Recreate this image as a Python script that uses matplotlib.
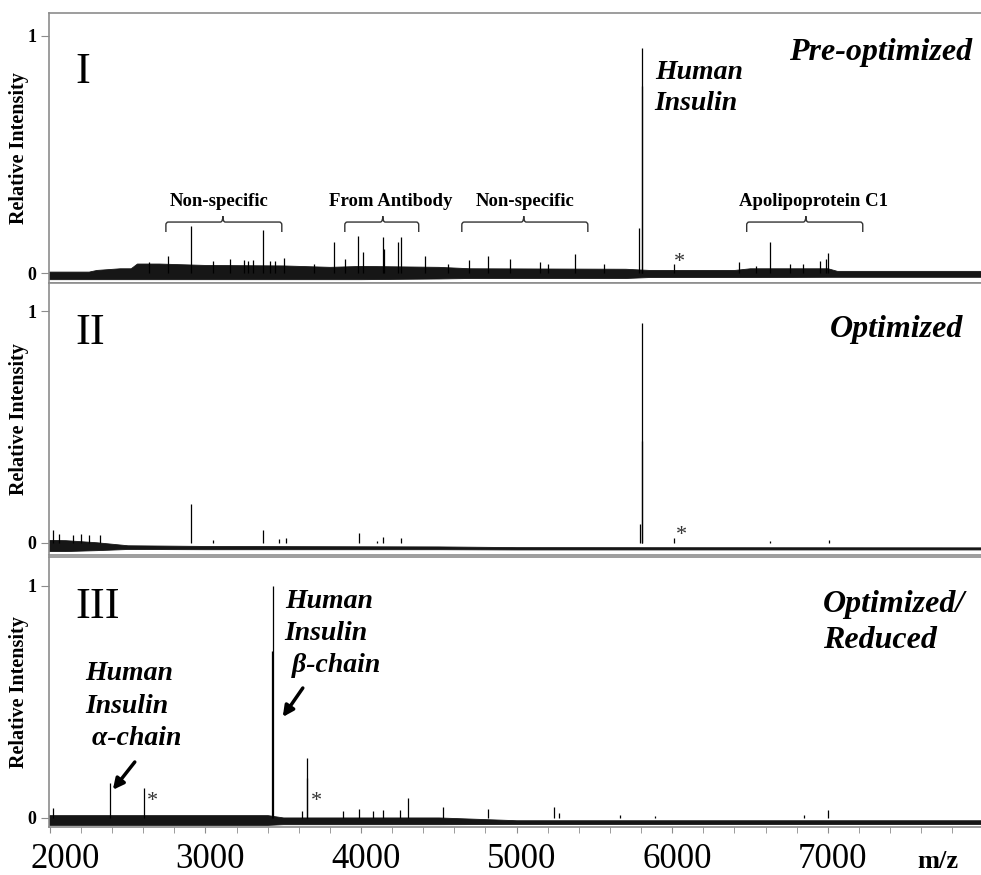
import matplotlib.pyplot as plt
from matplotlib.path import Path
from matplotlib.patches import PathPatch
from matplotlib.ticker import MultipleLocator

plt.rcParams['font.family'] = ['Liberation Serif', 'DejaVu Serif']

# --- Spectrum I: pre-optimized (m/z, relative intensity)
peaks_I_mz = [2640, 2758, 2906, 3050, 3157, 3250, 3273, 3305, 3369, 3415,
              3450, 3504, 3700, 3825, 3900, 3979, 4010, 4140, 4146, 4236,
              4256, 4410, 4560, 4693, 4815, 4956, 5150, 5200, 5374, 5560,
              5785, 5803, 5805, 6010, 6428, 6537, 6627, 6760, 6839, 6950,
              6990, 7000]
peaks_I_int = [0.045, 0.07, 0.20, 0.05, 0.06, 0.055, 0.05, 0.055, 0.18, 0.05,
               0.05, 0.065, 0.04, 0.13, 0.06, 0.155, 0.09, 0.15, 0.10, 0.13,
               0.15, 0.07, 0.04, 0.055, 0.07, 0.06, 0.045, 0.04, 0.08, 0.04,
               0.19, 0.79, 0.95, 0.04, 0.045, 0.03, 0.13, 0.04, 0.04, 0.05,
               0.06, 0.085]
# chemical noise band (upper / lower edge)
band_I_mz = [1995, 2250, 2300, 2450, 2520, 2560, 2700, 3000, 3500, 3800,
             4000, 4500, 4700, 5700, 5850, 6400, 6500, 7000, 7060, 7985]
band_I_top = [0.006, 0.006, 0.013, 0.02, 0.02, 0.04, 0.04, 0.034, 0.032, 0.026,
              0.03, 0.026, 0.02, 0.018, 0.013, 0.013, 0.02, 0.02, 0.009, 0.009]
band_I_bot = [-0.026, -0.026, -0.026, -0.026, -0.026, -0.026, -0.026, -0.026, -0.026, -0.026,
              -0.026, -0.023, -0.021, -0.021, -0.017, -0.017, -0.017, -0.016, -0.016, -0.016]

# --- Spectrum II: optimized
peaks_II_mz = [2020, 2060, 2150, 2200, 2250, 2321, 2906, 3050, 3369, 3470,
               3520, 3986, 4105, 4140, 4256, 5792, 5803, 5805, 6010, 6627, 7006]
peaks_II_int = [0.056, 0.04, 0.035, 0.04, 0.035, 0.035, 0.17, 0.012, 0.056, 0.015,
                0.02, 0.045, 0.01, 0.025, 0.02, 0.08, 0.44, 0.95, 0.02, 0.01, 0.012]
band_II_mz = [1995, 2100, 2300, 2500, 3000, 4500, 5000, 7985]
band_II_top = [0.013, 0.012, 0.003, -0.01, -0.013, -0.015, -0.018, -0.019]
band_II_bot = [-0.035, -0.035, -0.031, -0.026, -0.027, -0.027, -0.028, -0.028]

# --- Spectrum III: optimized / reduced
peaks_III_mz = [2020, 2386, 2606, 3431, 3433, 3620, 3650, 3652, 3883, 3986,
                4075, 4140, 4250, 4301, 4526, 4815, 5239, 5271, 5663, 5888,
                6846, 7000]
peaks_III_int = [0.043, 0.15, 0.13, 0.72, 1.0, 0.03, 0.17, 0.26, 0.03, 0.04,
                 0.03, 0.035, 0.035, 0.085, 0.047, 0.04, 0.045, 0.02, 0.012, 0.01,
                 0.012, 0.035]
band_III_mz = [1995, 3400, 3500, 4500, 5000, 7985]
band_III_top = [0.012, 0.012, 0.002, 0.002, -0.01, -0.01]
band_III_bot = [-0.03, -0.03, -0.027, -0.027, -0.026, -0.026]

mz_ticks = [2000, 3000, 4000, 5000, 6000, 7000]

# brace groups in spectrum I: (start, end, centre, label, label x)
brace_lo = [2746, 3896, 4648, 6479]
brace_hi = [3491, 4371, 5458, 7225]
brace_mid = [3112, 4140, 5046, 6859]
brace_labels = ['Non-specific', 'From Antibody', 'Non-specific', 'Apolipoprotein C1']
brace_label_x = [3086, 4188, 5056, 6910]

spectra = [
    (peaks_I_mz, peaks_I_int, band_I_mz, band_I_top, band_I_bot),
    (peaks_II_mz, peaks_II_int, band_II_mz, band_II_top, band_II_bot),
    (peaks_III_mz, peaks_III_int, band_III_mz, band_III_top, band_III_bot),
]
# axes boxes [left, bottom, width, height] and y-limits
boxes = [[0.05, 0.6766, 0.95, 0.3086],
         [0.05, 0.3657, 0.95, 0.3109],
         [0.05, 0.0549, 0.95, 0.3086]]
ylims = [(-0.042, 1.097), (-0.052, 1.121), (-0.039, 1.125)]
roman = ['I', 'II', 'III']
roman_y = [0.80, 0.86, 0.86]

frame_col = '#8c8c8c'


def draw_brace(ax, x0, x1, xc, y_low, y_high, y_tip, r=16, dy=0.012):
    verts = [(x0, y_low), (x0, y_high - dy), (x0, y_high), (x0 + r, y_high),
             (xc - r, y_high), (xc, y_high), (xc, y_tip),
             (xc, y_high), (xc + r, y_high),
             (x1 - r, y_high), (x1, y_high), (x1, y_high - dy), (x1, y_low)]
    codes = [Path.MOVETO, Path.LINETO, Path.CURVE3, Path.CURVE3,
             Path.LINETO, Path.CURVE3, Path.CURVE3,
             Path.CURVE3, Path.CURVE3,
             Path.LINETO, Path.CURVE3, Path.CURVE3, Path.LINETO]
    ax.add_patch(PathPatch(Path(verts, codes), facecolor='none',
                           edgecolor='#333333', lw=1.0))


fig = plt.figure(figsize=(9.81, 8.75), dpi=100)
axes = []
for i, (pmz, pint, bmz, btop, bbot) in enumerate(spectra):
    ax = fig.add_axes(boxes[i])
    axes.append(ax)
    ax.fill_between(bmz, bbot, btop, color='#161616', lw=0.6, edgecolor='#161616')
    ax.vlines(pmz, 0, pint, color='black', lw=0.9)
    ax.set_xlim(1995, 7985)
    ax.set_ylim(*ylims[i])
    for side in ['top', 'left', 'bottom']:
        ax.spines[side].set_color(frame_col)
        ax.spines[side].set_linewidth(1.2)
    ax.spines['right'].set_visible(False)
    ax.set_yticks([0, 1])
    ax.set_yticklabels(['0', '1'], fontsize=13, fontweight='bold')
    ax.tick_params(axis='y', direction='out', length=6, color=frame_col, pad=3)
    ax.set_ylabel('Relative Intensity', fontsize=14.5, fontweight='bold')
    ax.yaxis.set_label_coords(-0.021, 0.5)
    ax.text(2161, roman_y[i], roman[i], fontsize=32, ha='left', va='baseline')
    if i < 2:
        ax.set_xticks([])
    else:
        ax.set_xticks(mz_ticks)
        ax.set_xticklabels([])
        ax.xaxis.set_minor_locator(MultipleLocator(200))
        ax.tick_params(axis='x', which='both', direction='out', length=4.5,
                       color=frame_col)

ax1, ax2, ax3 = axes

# m/z tick labels, set a little to the right of their ticks
for v in mz_ticks:
    dx = 10.8 if v == mz_ticks[0] else 3.6
    ax3.annotate(str(v), xy=(v, 0), xycoords=('data', 'axes fraction'),
                 xytext=(dx, -11.5), textcoords='offset points',
                 ha='center', va='top', fontsize=25, annotation_clip=False)

bi = dict(fontsize=23, fontweight='bold', fontstyle='italic')
bi20 = dict(fontsize=20, fontweight='bold', fontstyle='italic')

# spectrum I annotations (multi-line texts are placed by their last baseline)
ax1.text(7925, 0.90, 'Pre-optimized', ha='right', va='baseline', **bi)
ax1.text(5888, 0.688, 'Human\nInsulin', ha='left', va='baseline',
         linespacing=1.31, **bi20)
ax1.text(6049, 0.045, '*', ha='center', va='center', fontsize=16, color='#333333')
for lo, hi, mid, lab, lx in zip(brace_lo, brace_hi, brace_mid, brace_labels, brace_label_x):
    draw_brace(ax1, lo, hi, mid, 0.173, 0.215, 0.240)
    ax1.text(lx, 0.283, lab, ha='center', va='baseline', fontsize=13.5, fontweight='bold')

# spectrum II annotations
ax2.text(7868, 0.888, 'Optimized', ha='right', va='baseline', **bi)
ax2.text(6062, 0.03, '*', ha='center', va='center', fontsize=16, color='#333333')

# spectrum III annotations
ax3.text(6968, 0.733, 'Optimized/\nReduced', ha='left', va='baseline',
         linespacing=1.30, **bi)
ax3.text(3510, 0.629, 'Human\nInsulin\n \u03b2-chain', ha='left', va='baseline',
         linespacing=1.36, **bi20)
ax3.text(2225, 0.315, 'Human\nInsulin\n \u03b1-chain', ha='left', va='baseline',
         linespacing=1.38, **bi20)
arrow = dict(arrowstyle='-|>', lw=2.5, color='black', mutation_scale=16,
             shrinkA=0, shrinkB=0)
ax3.annotate('', xy=(3497, 0.435), xytext=(3626, 0.56), arrowprops=arrow)
ax3.annotate('', xy=(2405, 0.121), xytext=(2546, 0.241), arrowprops=arrow)
ax3.text(2662, 0.072, '*', ha='center', va='center', fontsize=16, color='#333333')
ax3.text(3716, 0.072, '*', ha='center', va='center', fontsize=16, color='#333333')

fig.text(938 / 981, 0.008, 'm/z', ha='center', va='baseline', fontsize=19,
         fontweight='bold')

fig.savefig('out.png', dpi=100)
